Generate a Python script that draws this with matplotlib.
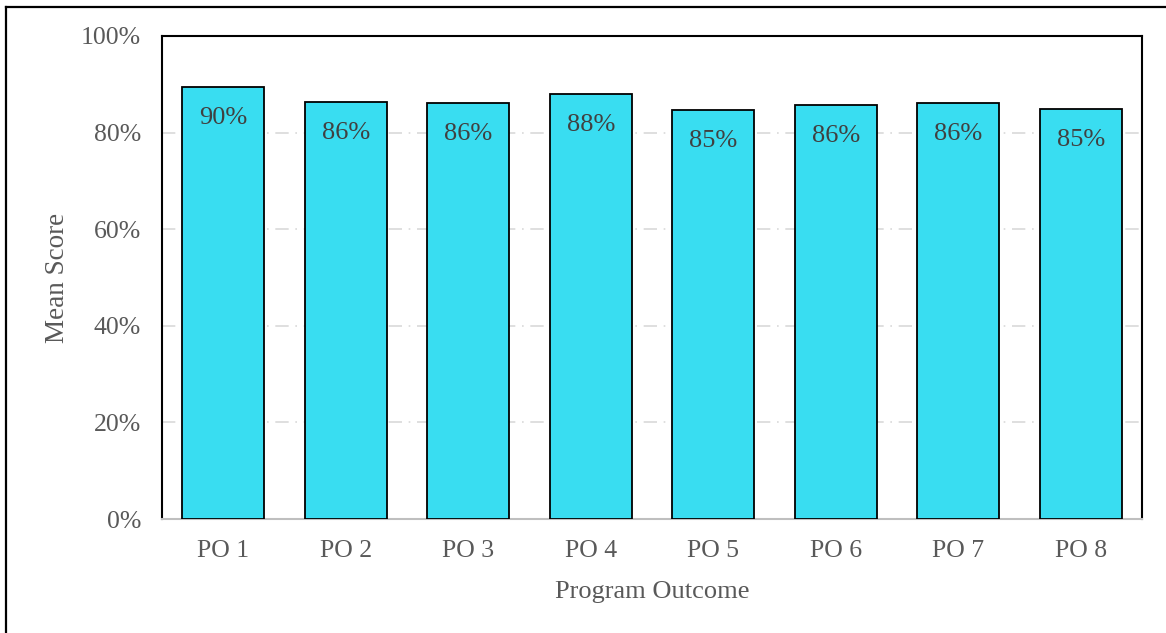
import matplotlib.pyplot as plt
from matplotlib.lines import Line2D

plt.rcParams['font.family'] = ['Liberation Serif', 'DejaVu Serif']

outcomes = ["PO 1", "PO 2", "PO 3", "PO 4", "PO 5", "PO 6", "PO 7", "PO 8"]
mean_scores = [89.5, 86.3, 86.1, 88.0, 84.6, 85.7, 86.1, 84.8]
bar_labels = ["90%", "86%", "86%", "88%", "85%", "86%", "86%", "85%"]
y_ticks = [0, 20, 40, 60, 80, 100]

fig = plt.figure(figsize=(11.66, 6.33), dpi=100)
ax = fig.add_axes([162 / 1166, 1 - 519 / 633, 980 / 1166, 483 / 633])

# outer frame (only left and top visible in the reference)
fig.add_artist(Line2D([6 / 1166, 6 / 1166], [0, 1 - 7 / 633], color="black", lw=1.6, transform=fig.transFigure))
fig.add_artist(Line2D([6 / 1166, 1], [1 - 7 / 633, 1 - 7 / 633], color="black", lw=1.6, transform=fig.transFigure))

x = range(len(outcomes))
ax.bar(x, mean_scores, width=0.67, color="#39DDF1", edgecolor="black", linewidth=1.3, zorder=3)

for i, (v, lab) in enumerate(zip(mean_scores, bar_labels)):
    ax.text(i, v - 6.4, lab, ha="center", va="center", fontsize=19, color="#404040", zorder=4)

ax.set_xlim(-0.5, len(outcomes) - 0.5)
ax.set_ylim(0, 100)
ax.set_yticks(y_ticks)
ax.set_yticklabels([f"{t}%" for t in y_ticks])
ax.set_xticks(list(x))
ax.set_xticklabels(outcomes)
ax.tick_params(axis="both", length=0, labelsize=18.5, colors="#595959")
ax.tick_params(axis="x", pad=15)
ax.tick_params(axis="y", pad=15)

ax.yaxis.grid(True, color="#D9D9D9", linestyle=(0, (8, 4, 1, 4)), linewidth=1.2, zorder=0)
ax.set_axisbelow(True)

for side in ["left", "top", "right"]:
    ax.spines[side].set_color("black")
    ax.spines[side].set_linewidth(1.5)
ax.spines["bottom"].set_color("#BFBFBF")
ax.spines["bottom"].set_linewidth(1.5)

ax.set_xlabel("Program Outcome", fontsize=19, color="#595959", labelpad=14)
ax.set_ylabel("Mean Score", fontsize=19.5, color="#595959", labelpad=8)

fig.savefig("out.png", dpi=100)
